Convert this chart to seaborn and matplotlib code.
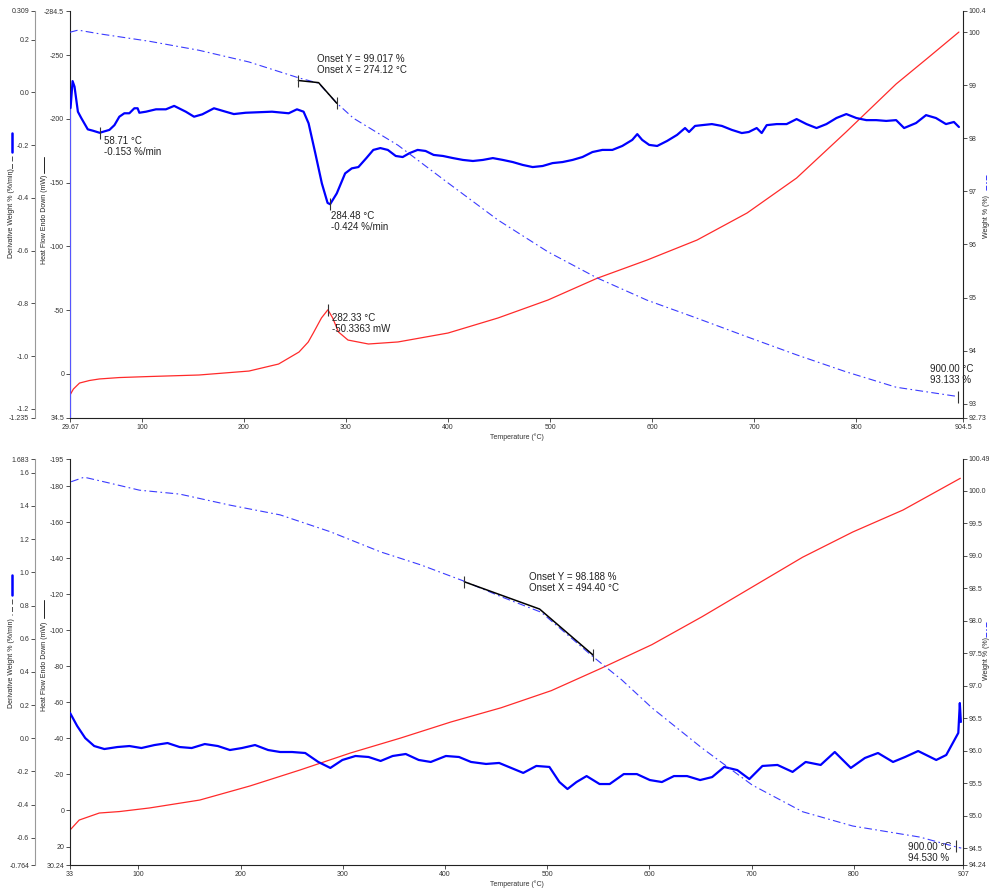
import matplotlib
matplotlib.use("Agg")
import matplotlib.pyplot as plt
from matplotlib.lines import Line2D
import seaborn as sns
import pandas as pd

sns.set_theme(style="white")
plt.rcParams['font.family'] = ['Liberation Sans', 'DejaVu Sans']

# ---------------- TOP PANEL DATA ----------------
top_hf_T = [29.67, 33, 39, 48.8, 58.5, 78, 107, 156, 205, 234, 254, 263, 268, 276, 282.33,
            287, 292.7, 302, 322, 351, 400, 449, 498, 546, 595, 644, 693, 741.5, 790, 839, 870, 900.5]
top_hf = [16.5, 11.8, 7.1, 5.1, 3.9, 2.8, 2.0, 0.8, -2.3, -7.8, -17.2, -25.0, -32.1, -43.9, -50.34,
          -43.9, -32.9, -26.6, -23.5, -25.1, -32.1, -43.9, -58.0, -75.0, -89.3, -105.0, -126.2,
          -153.6, -189.7, -227.3, -247.7, -268.0]

# instrument start-up trace of the derivative signal
top_dw_start_T = [29.67, 29.67]
top_dw_start = [-1.235, -0.059]

top_dw_T = [29.67, 30.2, 32.2, 34.1, 37.4, 40.7, 47.1, 52, 58.71, 68.3, 73.2, 78, 82.9, 87.8,
            92.7, 95.9, 97.6, 104.1, 113.9, 123.6, 131.7, 143.1, 151.2, 159.3, 170.7, 182.1, 190.2,
            201.7, 214.6, 227.6, 243.9, 252, 258.5, 263.4, 270, 276.4, 282, 284.48, 291, 299.2,
            305.7, 312.2, 320.0, 326.8, 333.7, 341.0, 348.8, 355.6, 362.4, 370.2, 378.0, 385.9,
            395.1, 404.9, 414.6, 424.4, 434.1, 443.9, 453.7, 463.4, 473.2, 482.9, 492.7, 502.4,
            512.2, 522.0, 531.7, 541.5, 551.2, 561.0, 570.7, 580.5, 585.4, 590.2, 597.1, 604.9,
            614.6, 624.4, 632.2, 636.1, 642.0, 648.8, 658.5, 668.3, 678.0, 687.8, 694.6, 702.4,
            707.3, 712.2, 722.0, 731.7, 741.5, 751.2, 761.0, 770.7, 780.5, 790.2, 800.0, 809.8,
            819.5, 829.3, 839.0, 846.8, 858.5, 868.3, 878.0, 887.8, 895.6, 900.5]
top_dw = [-0.059, -0.059, 0.043, 0.022, -0.073, -0.097, -0.140, -0.145, -0.153, -0.142,
          -0.124, -0.092, -0.079, -0.079, -0.060, -0.060, -0.077, -0.073, -0.064, -0.064, -0.051,
          -0.073, -0.092, -0.083, -0.060, -0.073, -0.082, -0.077, -0.075, -0.073, -0.079, -0.064,
          -0.073, -0.117, -0.231, -0.345, -0.419, -0.424, -0.383, -0.307, -0.288, -0.283, -0.249,
          -0.218, -0.211, -0.218, -0.241, -0.245, -0.230, -0.218, -0.222, -0.237, -0.241, -0.249,
          -0.256, -0.260, -0.256, -0.249, -0.256, -0.264, -0.275, -0.283, -0.279, -0.268, -0.264,
          -0.256, -0.245, -0.226, -0.218, -0.218, -0.203, -0.180, -0.158, -0.180, -0.199, -0.203,
          -0.184, -0.161, -0.135, -0.150, -0.127, -0.124, -0.120, -0.127, -0.142, -0.154, -0.150,
          -0.135, -0.154, -0.124, -0.120, -0.120, -0.101, -0.120, -0.135, -0.120, -0.097, -0.082,
          -0.097, -0.105, -0.105, -0.108, -0.105, -0.135, -0.116, -0.086, -0.097, -0.120, -0.112,
          -0.131]

top_wt_T = [29.67, 37.6, 58.5, 107.3, 156, 204.9, 253.7, 273.2, 290.7, 307.3, 351, 400, 449, 498,
            546, 595, 644, 693, 741.5, 790, 839, 870, 900]
top_wt = [100.00, 100.04, 99.97, 99.83, 99.66, 99.44, 99.14, 99.04, 98.67, 98.38, 97.87, 97.16,
          96.46, 95.86, 95.37, 94.95, 94.61, 94.26, 93.92, 93.60, 93.31, 93.22, 93.133]

top_onset_T = [253.4, 273.2, 291.1]
top_onset_W = [99.09, 99.05, 98.66]

# ---------------- BOTTOM PANEL DATA ----------------
bot_hf_T = [33.1, 42, 61.7, 81.3, 110.8, 160, 209.1, 258.3, 307.5, 356.6, 405.8, 455, 504.1,
            553.3, 602.5, 651.6, 700.8, 750, 799.1, 848.3, 904.4]
bot_hf = [10.8, 5.3, 1.4, 0.6, -1.4, -5.8, -13.6, -22.5, -31.9, -40.2, -49.1, -57.0, -66.5,
          -79.0, -92.0, -107.5, -124.0, -140.5, -154.5, -166.7, -184.3]

bot_dw_T = [33.1, 40.0, 47.9, 56.7, 66.6, 79.4, 91.2, 102.9, 115.7, 128.5, 140.3, 152.1, 164.9,
            177.7, 189.5, 201.3, 214.1, 226.9, 238.7, 250.4, 263.2, 276.0, 287.8, 299.6, 312.4,
            325.2, 337.0, 348.8, 361.6, 374.3, 386.1, 400.9, 413.7, 425.5, 440.2, 453.0, 464.8,
            476.6, 489.4, 502.2, 512.0, 519.9, 528.7, 538.6, 551.3, 561.2, 575.0, 587.8, 600.5,
            612.3, 624.1, 636.9, 649.7, 661.5, 673.3, 686.1, 697.9, 710.7, 725.4, 740.2, 753.0,
            767.7, 781.5, 797.2, 811.0, 823.8, 838.5, 850.3, 863.1, 880.8, 890.6, 902.4, 903.9, 904.9]
bot_dw = [0.152, 0.074, 0.001, -0.047, -0.065, -0.053, -0.047, -0.059, -0.041, -0.029, -0.053,
          -0.059, -0.035, -0.047, -0.071, -0.059, -0.041, -0.071, -0.083, -0.083, -0.089, -0.143,
          -0.179, -0.131, -0.107, -0.113, -0.137, -0.107, -0.095, -0.131, -0.143, -0.107, -0.113,
          -0.143, -0.155, -0.149, -0.179, -0.209, -0.167, -0.173, -0.264, -0.306, -0.264, -0.228,
          -0.276, -0.276, -0.216, -0.216, -0.252, -0.264, -0.228, -0.228, -0.252, -0.234, -0.173,
          -0.192, -0.246, -0.167, -0.161, -0.203, -0.143, -0.161, -0.083, -0.179, -0.119, -0.089,
          -0.143, -0.113, -0.077, -0.131, -0.101, 0.032, 0.212, 0.098]

bot_wt_T = [34.1, 46.9, 71.5, 101, 140.3, 189.5, 238.6, 287.8, 337, 376.3, 418.6, 455, 494.3,
            545.4, 573, 602.5, 651.6, 700.8, 750, 799.1, 864.7, 897.5, 905.3]
bot_wt = [100.14, 100.21, 100.12, 100.01, 99.95, 99.78, 99.63, 99.37, 99.06, 98.86, 98.61, 98.37,
          98.13, 97.44, 97.09, 96.66, 96.04, 95.47, 95.06, 94.84, 94.67, 94.53, 94.50]

bot_onset_T = [418.9, 492.6, 545.1]
bot_onset_W = [98.60, 98.18, 97.47]

# axis ticks / labels
top_x_ticks = [29.67, 100, 200, 300, 400, 500, 600, 700, 800, 904.5]
top_x_labels = ["29.67", "100", "200", "300", "400", "500", "600", "700", "800", "904.5"]
top_hf_ticks = [-284.5, -250, -200, -150, -100, -50, 0, 34.5]
top_hf_labels = ["-284.5", "-250", "-200", "-150", "-100", "-50", "0", "34.5"]
top_dw_ticks = [0.309, 0.2, 0.0, -0.2, -0.4, -0.6, -0.8, -1.0, -1.2, -1.235]
top_dw_labels = ["0.309", "0.2", "0.0", "-0.2", "-0.4", "-0.6", "-0.8", "-1.0", "-1.2", "-1.235"]
top_wt_ticks = [100.4, 100, 99, 98, 97, 96, 95, 94, 93, 92.73]
top_wt_labels = ["100.4", "100", "99", "98", "97", "96", "95", "94", "93", "92.73"]

bot_x_ticks = [33, 100, 200, 300, 400, 500, 600, 700, 800, 907]
bot_x_labels = ["33", "100", "200", "300", "400", "500", "600", "700", "800", "907"]
bot_hf_ticks = [-195, -180, -160, -140, -120, -100, -80, -60, -40, -20, 0, 20, 30.24]
bot_hf_labels = ["-195", "-180", "-160", "-140", "-120", "-100", "-80", "-60", "-40", "-20", "0", "20", "30.24"]
bot_dw_ticks = [1.683, 1.6, 1.4, 1.2, 1.0, 0.8, 0.6, 0.4, 0.2, 0.0, -0.2, -0.4, -0.6, -0.764]
bot_dw_labels = ["1.683", "1.6", "1.4", "1.2", "1.0", "0.8", "0.6", "0.4", "0.2", "0.0", "-0.2", "-0.4", "-0.6", "-0.764"]
bot_wt_ticks = [100.49, 100.0, 99.5, 99.0, 98.5, 98.0, 97.5, 97.0, 96.5, 96.0, 95.5, 95.0, 94.5, 94.24]
bot_wt_labels = ["100.49", "100.0", "99.5", "99.0", "98.5", "98.0", "97.5", "97.0", "96.5", "96.0", "95.5", "95.0", "94.5", "94.24"]

RED = "#ff2a2a"
BLUE = "#0000ff"
DBLUE = "#3b3bff"
TICK_FS = 5.0
ANN_FS = 7

W, H = 989, 889
fig = plt.figure(figsize=(W / 100, H / 100), dpi=100)


def rect(l, t, r, b):
    return [l / W, 1 - b / H, (r - l) / W, (b - t) / H]


def setup_panel(rc, xlim, xt, xl, hflim, hft, hfl, dwlim, dwt, dwl, wtlim, wtt, wtl):
    ax = fig.add_axes(rc)
    axd = ax.twinx()
    axw = ax.twinx()
    for a in (ax, axd, axw):
        a.set_facecolor("none")
        a.grid(False)
        for s in a.spines.values():
            s.set_visible(False)
            s.set_linewidth(0.8)
    ax.patch.set_facecolor("white")
    ax.spines['left'].set_visible(True)
    ax.spines['left'].set_color("#222222")
    ax.spines['bottom'].set_visible(True)
    ax.spines['bottom'].set_color("#222222")
    axd.spines['left'].set_visible(True)
    axd.spines['left'].set_color("#999999")
    # 35 px outward at 100 dpi
    axd.spines['left'].set_position(('outward', 35 * 72 / 100))
    axd.yaxis.set_ticks_position('left')
    axd.yaxis.set_label_position('left')
    axw.spines['right'].set_visible(True)
    axw.spines['right'].set_color("#222222")

    ax.set_xlim(*xlim)
    ax.set_xticks(xt)
    ax.set_xticklabels(xl)
    ax.set_ylim(*hflim)
    ax.set_yticks(hft)
    ax.set_yticklabels(hfl)
    axd.set_ylim(*dwlim)
    axd.set_yticks(dwt)
    axd.set_yticklabels(dwl)
    axw.set_ylim(*wtlim)
    axw.set_yticks(wtt)
    axw.set_yticklabels(wtl)
    for a in (ax, axd, axw):
        a.tick_params(axis='both', labelsize=TICK_FS, length=3, width=0.6, pad=1.2,
                      colors="#333333", direction='out')
        a.set_xlabel("")
        a.set_ylabel("")
    ax.tick_params(axis='x', bottom=True)
    ax.tick_params(axis='y', left=True)
    axd.tick_params(axis='y', left=True, right=False, labelleft=True, labelright=False)
    axw.tick_params(axis='y', right=True, left=False)
    ax.set_xlabel("Temperature (°C)", fontsize=TICK_FS, labelpad=2, color="#333333")
    return ax, axd, axw


# ---------------- TOP PANEL ----------------
ax1, ax1d, ax1w = setup_panel(rect(70, 11, 963, 418), (29.67, 904.5), top_x_ticks, top_x_labels,
                              (34.5, -284.5), top_hf_ticks, top_hf_labels,
                              (-1.235, 0.309), top_dw_ticks, top_dw_labels,
                              (92.73, 100.4), top_wt_ticks, top_wt_labels)

sns.lineplot(x=top_hf_T, y=top_hf, ax=ax1, color=RED, lw=0.9, sort=False, estimator=None)
sns.lineplot(x=top_dw_start_T, y=top_dw_start, ax=ax1d, color="#5555ff", lw=0.8, sort=False, estimator=None)
sns.lineplot(x=top_dw_T, y=top_dw, ax=ax1d, color=BLUE, lw=1.6, sort=False, estimator=None)
sns.lineplot(x=top_wt_T, y=top_wt, ax=ax1w, color=DBLUE, lw=0.8, sort=False, estimator=None,
             linestyle=(0, (7, 3, 1.5, 3)))
sns.lineplot(x=top_onset_T, y=top_onset_W, ax=ax1w, color="black", lw=1.1, sort=False, estimator=None)
ax1w.plot([top_onset_T[0], top_onset_T[2]], [top_onset_W[0], top_onset_W[2]], ls='none',
          marker='|', ms=9, mew=0.8, color="#333333")

# markers + annotations top
ax1d.plot([58.71], [-0.153], marker='|', ms=9, mew=0.8, color="#333333")
ax1d.annotate("58.71 °C\n-0.153 %/min", xy=(58.71, -0.153), xytext=(4, -3), textcoords='offset pixels',
              fontsize=ANN_FS, va='top', ha='left', color="#222222", linespacing=1.15)
ax1d.plot([284.48], [-0.424], marker='|', ms=9, mew=0.8, color="#333333")
ax1d.annotate("284.48 °C\n-0.424 %/min", xy=(284.48, -0.424), xytext=(1, -7), textcoords='offset pixels',
              fontsize=ANN_FS, va='top', ha='left', color="#222222", linespacing=1.15)
ax1.plot([282.33], [-50.34], marker='|', ms=9, mew=0.8, color="#333333")
ax1.annotate("282.33 °C\n-50.3363 mW", xy=(282.33, -50.34), xytext=(4, -3), textcoords='offset pixels',
             fontsize=ANN_FS, va='top', ha='left', color="#222222", linespacing=1.15)
ax1w.annotate("Onset Y = 99.017 %\nOnset X = 274.12 °C", xy=(top_onset_T[1], top_onset_W[1]),
              xytext=(-2, 29), textcoords='offset pixels', fontsize=ANN_FS, va='top', ha='left',
              color="#222222", linespacing=1.15)
ax1w.plot([900], [93.133], marker='|', ms=9, mew=0.8, color="#333333")
t900 = ax1w.annotate("900.00 °C\n93.133 %", xy=(900, 93.133), xytext=(-28, 33), textcoords='offset pixels',
                     fontsize=ANN_FS, va='top', ha='left', color="#222222", linespacing=1.15,
                     annotation_clip=False)
t900.set_clip_on(True)

# ---------------- BOTTOM PANEL ----------------
ax2, ax2d, ax2w = setup_panel(rect(70, 459, 963, 865), (33, 907), bot_x_ticks, bot_x_labels,
                              (30.24, -195), bot_hf_ticks, bot_hf_labels,
                              (-0.764, 1.683), bot_dw_ticks, bot_dw_labels,
                              (94.24, 100.49), bot_wt_ticks, bot_wt_labels)

sns.lineplot(x=bot_hf_T, y=bot_hf, ax=ax2, color=RED, lw=0.9, sort=False, estimator=None)
sns.lineplot(x=bot_dw_T, y=bot_dw, ax=ax2d, color=BLUE, lw=1.6, sort=False, estimator=None)
sns.lineplot(x=bot_wt_T, y=bot_wt, ax=ax2w, color=DBLUE, lw=0.8, sort=False, estimator=None,
             linestyle=(0, (7, 3, 1.5, 3)))
sns.lineplot(x=bot_onset_T, y=bot_onset_W, ax=ax2w, color="black", lw=1.1, sort=False, estimator=None)
ax2w.plot([bot_onset_T[0], bot_onset_T[2]], [bot_onset_W[0], bot_onset_W[2]], ls='none',
          marker='|', ms=9, mew=0.8, color="#333333")
ax2w.annotate("Onset Y = 98.188 %\nOnset X = 494.40 °C", xy=(bot_onset_T[1], bot_onset_W[1]),
              xytext=(-11, 37), textcoords='offset pixels', fontsize=ANN_FS, va='top', ha='left',
              color="#222222", linespacing=1.15)
ax2w.plot([900], [94.53], marker='|', ms=9, mew=0.8, color="#333333")
ax2w.annotate("900.00 °C\n94.530 %", xy=(900, 94.53), xytext=(-48, 4), textcoords='offset pixels',
              fontsize=ANN_FS, va='top', ha='left', color="#222222", linespacing=1.15)

# ---------------- axis titles with legend swatches ----------------
LAB_FS = 5.0


def side_labels(yc_d, yc_h, yc_w, d_sw, h_sw, w_sw):
    fig.text(12 / W, 1 - yc_d / H, "Derivative Weight % (%/min)", rotation=90, fontsize=LAB_FS,
             ha='center', va='center', color="#222222")
    fig.text(44 / W, 1 - yc_h / H, "Heat Flow Endo Down (mW)", rotation=90, fontsize=LAB_FS,
             ha='center', va='center', color="#222222")
    fig.text(986 / W, 1 - yc_w / H, "Weight % (%)", rotation=90, fontsize=LAB_FS,
             ha='center', va='center', color="#222222")
    fig.add_artist(Line2D([12 / W, 12 / W], [1 - d_sw[0] / H, 1 - d_sw[1] / H], color=BLUE, lw=1.8))
    fig.add_artist(Line2D([12 / W, 12 / W], [1 - (d_sw[1] + 4) / H, 1 - (d_sw[1] + 20) / H],
                          color="#333333", lw=0.6, ls=(0, (6, 3))))
    fig.add_artist(Line2D([44 / W, 44 / W], [1 - h_sw[0] / H, 1 - h_sw[1] / H], color="#222222", lw=0.7))
    fig.add_artist(Line2D([986 / W, 986 / W], [1 - w_sw[0] / H, 1 - w_sw[1] / H], color=DBLUE, lw=0.7,
                          ls=(0, (5, 2, 1.5, 2))))


side_labels(213, 219, 216, (133, 152), (157, 173), (175, 192))
side_labels(663, 666, 658, (575, 595), (600, 618), (622, 639))

fig.savefig("out.png", dpi=100)
